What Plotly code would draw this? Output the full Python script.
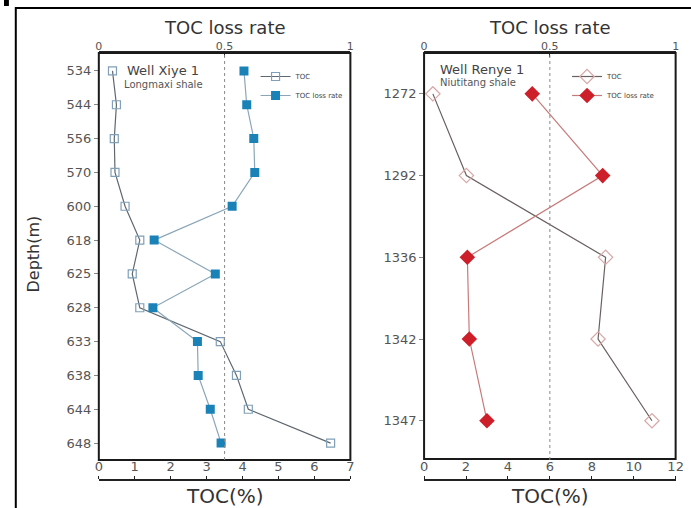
import plotly.graph_objects as go

W, H = 691, 508

# Well Xiye 1 (Longmaxi shale)
xiye_depth = ["534", "544", "556", "570", "600", "618", "625", "628", "633", "638", "644", "648"]
xiye_toc = [0.38, 0.49, 0.43, 0.45, 0.73, 1.14, 0.93, 1.14, 3.38, 3.83, 4.16, 6.45]
xiye_loss = [0.577, 0.588, 0.616, 0.62, 0.53, 0.22, 0.463, 0.215, 0.392, 0.395, 0.443, 0.486]

# Well Renye 1 (Niutitang shale)
renye_depth = ["1272", "1292", "1336", "1342", "1347"]
renye_toc = [0.42, 2.02, 8.66, 8.3, 10.87]
renye_loss = [0.43, 0.71, 0.172, 0.18, 0.25]

toc_ticks_left = [0, 1, 2, 3, 4, 5, 6, 7]
toc_ticks_right = [0, 2, 4, 6, 8, 10, 12]
loss_ticks = [0, 0.5, 1]


def px(x):
    return x / W


def py(y):
    return 1 - y / H


FONT = "DejaVu Sans, Verdana, sans-serif"
GRAY = "#555555"

fig = go.Figure()

# left panel
fig.add_trace(go.Scatter(
    x=xiye_toc, y=xiye_depth, xaxis="x", yaxis="y", name="TOC",
    mode="lines+markers", line=dict(color="#5f6870", width=1.2),
    marker=dict(symbol="square-open", size=8, color="#7fa0b8", line=dict(width=1.2)),
    legend="legend"))
fig.add_trace(go.Scatter(
    x=xiye_loss, y=xiye_depth, xaxis="x2", yaxis="y", name="TOC loss rate",
    mode="lines+markers", line=dict(color="#8aa6b8", width=1.2),
    marker=dict(symbol="square", size=9, color="#1b82b8"),
    legend="legend"))

# right panel
fig.add_trace(go.Scatter(
    x=renye_toc, y=renye_depth, xaxis="x3", yaxis="y2", name="TOC",
    mode="lines+markers", line=dict(color="#6a6060", width=1.2),
    marker=dict(symbol="diamond-open", size=11, color="#d8a8a8", line=dict(width=1.2)),
    legend="legend2"))
fig.add_trace(go.Scatter(
    x=renye_loss, y=renye_depth, xaxis="x4", yaxis="y2", name="TOC loss rate",
    mode="lines+markers", line=dict(color="#c87a7a", width=1.2),
    marker=dict(symbol="diamond", size=12, color="#cc1f2a"),
    legend="legend2"))

L_dom = [px(96.5), px(352.5)]
R_dom = [px(427.5), px(683.5)]
Y_dom = [py(460), py(53)]
AX_POS = py(480)

tickfont = dict(family=FONT, size=13, color=GRAY)

base_x = dict(showgrid=False, zeroline=False, showline=True, linecolor="#222",
              linewidth=1.5, tickcolor="#222")
bottom_x = dict(ticks="outside", ticklen=3, ticklabelstandoff=0,
                tickfont=dict(family=FONT, size=13, color=GRAY), **base_x)
top_x = dict(ticks="inside", ticklen=4, ticklabelstandoff=-3,
             tickfont=dict(family=FONT, size=11, color=GRAY), **base_x)

fig.update_layout(
    width=W, height=H, margin=dict(l=0, r=0, t=0, b=0),
    paper_bgcolor="white", plot_bgcolor="white",
    xaxis=dict(domain=L_dom, range=[0, 7], tickvals=toc_ticks_left,
               anchor="free", position=AX_POS, side="top", **bottom_x),
    xaxis2=dict(domain=L_dom, range=[0, 1], tickvals=loss_ticks, ticktext=["0", "0.5", "1"],
                overlaying="x", anchor="y", side="top", **top_x),
    xaxis3=dict(domain=R_dom, range=[0, 12], tickvals=toc_ticks_right,
                anchor="free", position=AX_POS, side="top", **bottom_x),
    xaxis4=dict(domain=R_dom, range=[0, 1], tickvals=loss_ticks, ticktext=["0", "0.5", "1"],
                overlaying="x3", anchor="y2", side="top", **top_x),
    yaxis=dict(domain=Y_dom, anchor="x", type="category",
               categoryorder="array", categoryarray=xiye_depth,
               range=[11.5, -0.53], showgrid=False, zeroline=False,
               showline=False, ticks="outside", ticklen=4, tickcolor="#888",
               tickfont=tickfont),
    yaxis2=dict(domain=Y_dom, anchor="x3", type="category",
                categoryorder="array", categoryarray=renye_depth,
                range=[4.48, -0.5], showgrid=False, zeroline=False,
                showline=False, ticks="outside", ticklen=4, tickcolor="#888",
                tickfont=tickfont),
    legend=dict(x=px(256), y=py(62), xanchor="left", yanchor="top",
                bgcolor="rgba(0,0,0,0)", font=dict(family=FONT, size=7, color="#444"),
                itemwidth=30, tracegroupgap=0),
    legend2=dict(x=px(573), y=py(62), xanchor="left", yanchor="top",
                 bgcolor="rgba(0,0,0,0)", font=dict(family=FONT, size=7, color="#444"),
                 itemwidth=30, tracegroupgap=0),
)

shapes = []
# plot frames
for dom, yb in ((L_dom, 460), (R_dom, 459)):
    shapes.append(dict(type="rect", xref="paper", yref="paper",
                       x0=dom[0], x1=dom[1], y0=py(yb), y1=py(53),
                       line=dict(color="#1a1a1a", width=2)))
# dotted reference at loss rate 0.5
for xr, yr in (("x2", "y"), ("x4", "y2")):
    shapes.append(dict(type="line", xref=xr, yref=yr + " domain",
                       x0=0.5, x1=0.5, y0=0, y1=1,
                       line=dict(color="#888", width=1, dash="dot")))
# outer border
shapes.append(dict(type="rect", xref="paper", yref="paper",
                   x0=px(12), x1=1.05, y0=-0.05, y1=py(8),
                   line=dict(color="black", width=2)))
shapes.append(dict(type="rect", xref="paper", yref="paper",
                   x0=0, x1=px(5), y0=py(6), y1=1,
                   fillcolor="black", line=dict(width=0)))
fig.update_layout(shapes=shapes)


def label(text, x, y, size, color="#333", xanchor="center", angle=0):
    return dict(text=text, x=px(x), y=py(y), xref="paper", yref="paper",
                xanchor=xanchor, yanchor="middle", textangle=angle,
                showarrow=False, font=dict(family=FONT, size=size, color=color))


ann = []
for cx in (224.5, 555.5):
    ann.append(label("TOC loss rate", cx, 27, 18))
    ann.append(label("TOC(%)", cx, 496, 20))
ann.append(label("Depth(m)", 30, 254, 16, angle=-90))
ann.append(label("Well Xiye 1", 123, 71, 13, "#444", "left"))
ann.append(label("Longmaxi shale", 120, 84, 10, "#555", "left"))
ann.append(label("Well Renye 1", 442, 70, 13, "#444", "left"))
ann.append(label("Niutitang shale", 442, 83, 10, "#555", "left"))
fig.update_layout(annotations=ann)

fig.write_html("out.html")
